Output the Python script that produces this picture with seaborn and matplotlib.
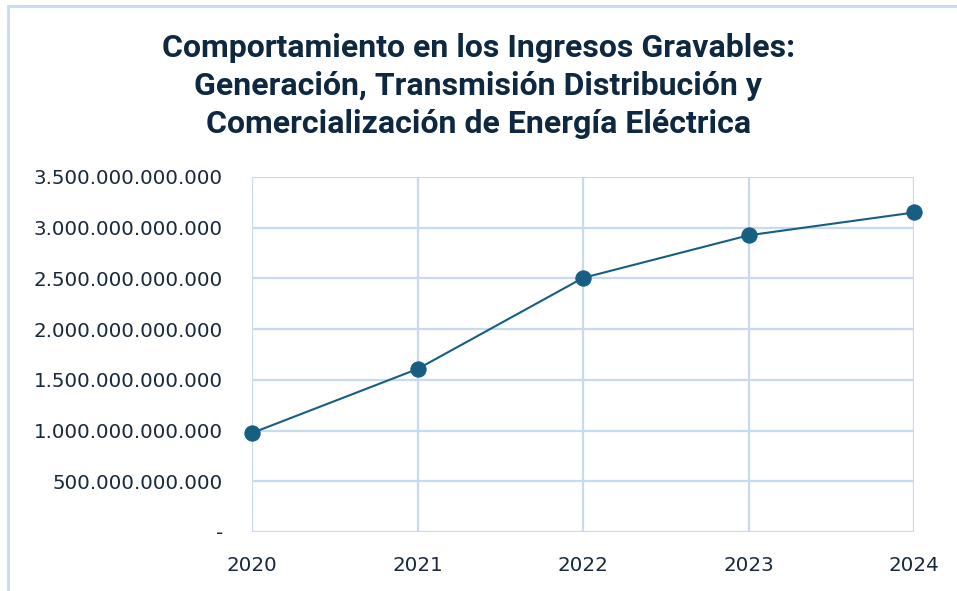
import pandas as pd
import seaborn as sns
import matplotlib.pyplot as plt
from matplotlib.patches import Rectangle
from matplotlib.ticker import FuncFormatter

years = [2020, 2021, 2022, 2023, 2024]
ingresos = [976e9, 1607e9, 2505e9, 2925e9, 3150e9]
title = ("Comportamiento en los Ingresos Gravables:\n"
         "Generación, Transmisión Distribución y\n"
         "Comercialización de Energía Eléctrica")

df = pd.DataFrame({"Año": years, "Ingresos": ingresos})

sns.set_style("white")
plt.rcParams['font.family'] = ['DejaVu Sans']

grid_color = "#c6daf2"
line_color = "#175f82"
text_color = "#1a2a3d"

fig = plt.figure(figsize=(9.57, 5.91), dpi=100)
ax = fig.add_axes([252 / 957, 59 / 591, 662 / 957, 355 / 591])

sns.lineplot(data=df, x="Año", y="Ingresos", ax=ax, color=line_color,
             linewidth=1.5, marker="o", markersize=11,
             markeredgecolor=line_color, zorder=5, clip_on=False)

ax.set_xlim(2020, 2024)
ax.set_ylim(0, 3.5e12)
ax.set_xticks(years)
ax.set_yticks([i * 0.5e12 for i in range(8)])

def fmt(v, pos):
    if v == 0:
        return "-"
    return f"{v:,.0f}".replace(",", ".")

ax.yaxis.set_major_formatter(FuncFormatter(fmt))
ax.grid(True, color=grid_color, linewidth=1.6)
for s in ax.spines.values():
    s.set_visible(False)
ax.tick_params(axis="both", length=0, labelsize=14.3, labelcolor=text_color)
ax.tick_params(axis="y", pad=21)
ax.tick_params(axis="x", pad=17)
ax.set_xlabel("")
ax.set_ylabel("")

fig.text(0.5, 1 - 86 / 591, title, ha="center", va="center", fontsize=23,
         fontweight="bold", color="#0e2841", linespacing=1.34,
         family=["Roboto", "DejaVu Sans"])

# chart area border (partly outside the image)
fig.patches.append(Rectangle((8 / 957, -0.05), 1.0, 0.05 + 585 / 591,
                             transform=fig.transFigure, fill=False,
                             edgecolor=grid_color, linewidth=2))

fig.savefig("out.png", dpi=100)
